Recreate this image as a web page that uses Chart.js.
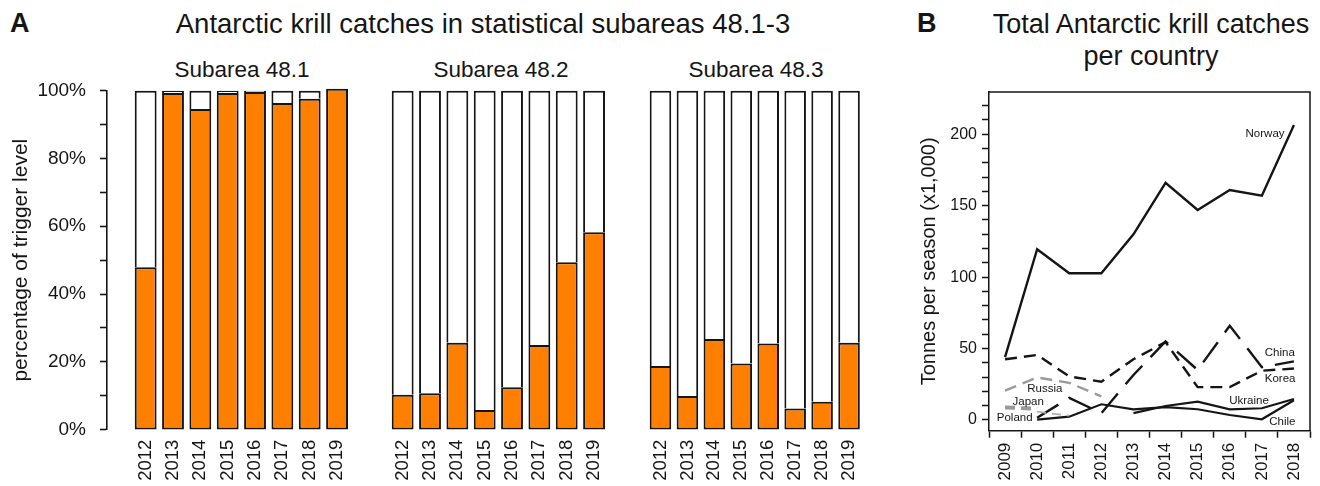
<!DOCTYPE html>
<html><head><meta charset="utf-8">
<script src="https://cdn.jsdelivr.net/npm/chart.js@4.4.1/dist/chart.umd.min.js"></script>
<style>
html,body{margin:0;padding:0;background:#fff;}
#wrap{position:relative;width:1320px;height:486px;overflow:hidden;font-family:"Liberation Sans",Arial,sans-serif;color:#151515;background:#fff;}
canvas{position:absolute;top:0;}
.t{position:absolute;white-space:nowrap;line-height:1;}
.c{transform:translateX(-50%);}
</style></head><body>
<div id="wrap">
  <div class="t" style="left:10px;top:9.6px;font-size:27px;font-weight:bold;">A</div>
  <div class="t c" style="left:483px;top:10.2px;font-size:27.5px;">Antarctic krill catches in statistical subareas 48.1-3</div>
  <div class="t" style="left:917px;top:9.6px;font-size:27px;font-weight:bold;">B</div>
  <div class="t c" style="left:1151px;top:10.6px;font-size:27px;">Total Antarctic krill catches</div>
  <div class="t c" style="left:1151px;top:42.6px;font-size:27px;">per country</div>
  <div class="t c" style="left:242px;top:59.3px;font-size:22.5px;">Subarea 48.1</div>
  <div class="t c" style="left:501px;top:59.3px;font-size:22.5px;">Subarea 48.2</div>
  <div class="t c" style="left:756px;top:59.3px;font-size:22.5px;">Subarea 48.3</div>
  <canvas id="axA" width="120" height="486" style="left:0px"></canvas>
  <canvas id="g1" width="250" height="486" style="left:120px"></canvas>
  <canvas id="g2" width="250" height="486" style="left:377px"></canvas>
  <canvas id="g3" width="247" height="486" style="left:635px"></canvas>
  <canvas id="pb" width="420" height="486" style="left:900px"></canvas>
</div>
<script>
// ---------- Panel A data ----------
const years = ['2012','2013','2014','2015','2016','2017','2018','2019'];
const subarea481 = [47.9, 99.3, 94.6, 99.3, 99.6, 96.4, 97.6, 100.6];
const subarea482 = [10.3, 10.7, 25.6, 5.8, 12.5, 25.0, 49.4, 58.2];
const subarea483 = [18.8, 9.9, 26.7, 19.5, 25.4, 6.2, 8.2, 25.6];
const pctTickLabels = [0, 20, 40, 60, 80, 100];

// ---------- Panel B data ----------
const seasons = ['2009','2010','2011','2012','2013','2014','2015','2016','2017','2018'];
const norway  = [44, 119.5, 102.7, 102.7, 130, 166, 147, 161, 157, 206.5];
const korea   = [42.5, 45.5, 30.5, 26.8, 42.5, 54.5, 23, 23, 34.5, 36];
const china   = [null, 1.5, 15.5, 4.8, 31.5, 55, 35, 66, 37, 41];
const russia  = [20.5, 29.8, 26, 16.5, null, null, null, null, null, null];
const japan   = [8.8, 7.8, null, null, null, null, null, null, null, null];
const poland  = [null, 5.8, 3, null, null, null, null, null, null, null];
const chile   = [null, 0.3, 2.3, 11, 7.5, 9, 7.5, 3.5, 0.5, 13.8];
const ukraine = [null, null, null, null, 4.8, 9.8, 12.8, 7.5, 8.2, 14.7];
const tonnesTickLabels = [0, 50, 100, 150, 200];

const FONT = '"Liberation Sans", Arial, sans-serif';
const INK = '#151515';
const ORANGE = '#ff8000';
const GREY = '#9a9a9a';

Chart.defaults.font.family = FONT;
Chart.defaults.color = INK;
Chart.defaults.animation = false;
Chart.defaults.responsive = false;
Chart.defaults.plugins.legend.display = false;
Chart.defaults.plugins.tooltip.enabled = false;

const H = 486;
const A_TOP = 90.7, A_BOTTOM = 429.6;
const PAD = 12;

// y axis for panel A (drawn on its own canvas so the axis sits left of the bars)
new Chart(document.getElementById('axA'), {
  type: 'bar',
  data: { labels: [], datasets: [] },
  options: {
    layout: { padding: { top: A_TOP, bottom: H - A_BOTTOM, left: 0, right: 0 } },
    scales: {
      x: { display: false },
      y: {
        min: 0, max: 100,
        afterBuildTicks: s => { const t = []; for (let v = 0; v <= 100; v += 10) t.push({ value: v }); s.ticks = t; },
        afterFit: s => { s.width = 107; },
        border: { display: true, color: INK, width: 1.6 },
        grid: { drawOnChartArea: false, drawTicks: true, tickLength: 7, tickWidth: 1.6, tickColor: INK },
        ticks: { padding: 14, font: { size: 19 }, color: INK, autoSkip: false,
                 callback: v => pctTickLabels.includes(v) ? v + '%' : '' },
        title: { display: true, text: 'percentage of trigger level', font: { size: 21 }, color: INK,
                 padding: { top: 8.4, bottom: 0 } }
      }
    }
  }
});

function groupChart(id, values) {
  const rest = values.map(v => v < 100 ? 100 - v : null);
  return new Chart(document.getElementById(id), {
    type: 'bar',
    data: {
      labels: years,
      datasets: [
        { data: values, backgroundColor: ORANGE, borderColor: INK, borderWidth: 2, borderSkipped: false, clip: false },
        { data: rest, backgroundColor: '#ffffff', borderColor: INK, borderWidth: 2, borderSkipped: 'start', clip: false }
      ]
    },
    options: {
      datasets: { bar: { barPercentage: 0.8, categoryPercentage: 1 } },
      layout: { padding: { top: A_TOP, bottom: 0, left: PAD, right: PAD } },
      scales: {
        x: {
          stacked: true,
          grid: { display: false, drawTicks: false },
          border: { display: false },
          ticks: { maxRotation: 90, minRotation: 90, padding: 10, font: { size: 18.5 }, color: INK, autoSkip: false },
          afterFit: s => { s.height = H - A_BOTTOM; }
        },
        y: { display: false, stacked: true, min: 0, max: 100 }
      }
    }
  });
}
groupChart('g1', subarea481);
groupChart('g2', subarea482);
groupChart('g3', subarea483);

// ---------- Panel B ----------
const B_TOP = 92, B_BOTTOM = 430.7;
const countryLabels = [
  { text: 'Norway',  at: [8.1, 200] },
  { text: 'China',   at: [8.56, 46.7] },
  { text: 'Korea',   at: [8.57, 28.5] },
  { text: 'Ukraine', at: [7.6, 13.5] },
  { text: 'Chile',   at: [8.64, -1.2] },
  { text: 'Russia',  at: [1.24, 21.9] },
  { text: 'Japan',   at: [0.72, 12.8] },
  { text: 'Poland',  at: [0.3, 1.2] }
];

const boxAndLabels = {
  id: 'boxAndLabels',
  afterDatasetsDraw(chart) {
    const { ctx, chartArea: a, scales: { x, y } } = chart;
    ctx.save();
    ctx.strokeStyle = INK;
    ctx.lineWidth = 1.5;
    ctx.beginPath();
    ctx.moveTo(a.left, a.top); ctx.lineTo(a.right, a.top); ctx.lineTo(a.right, a.bottom);
    ctx.stroke();
    ctx.fillStyle = INK;
    ctx.font = '11.5px ' + FONT;
    ctx.textAlign = 'center';
    ctx.textBaseline = 'middle';
    countryLabels.forEach(l => ctx.fillText(l.text, x.getPixelForValue(l.at[0]), y.getPixelForValue(l.at[1])));
    ctx.restore();
  }
};

function line(label, data, color, width, dash) {
  return { label, data, borderColor: color, borderWidth: width, borderDash: dash || [],
           pointRadius: 0, tension: 0, fill: false, spanGaps: false, borderCapStyle: 'butt' };
}

new Chart(document.getElementById('pb'), {
  type: 'line',
  data: {
    labels: seasons,
    datasets: [
      line('Japan', japan, GREY, 4, [10, 6]),
      line('Poland', poland, '#b0b0b0', 1.8, [9, 6]),
      line('Russia', russia, GREY, 2.4, [12, 7]),
      line('Korea', korea, INK, 2.4, [12, 7]),
      line('China', china, INK, 2.4, [25, 12]),
      line('Chile', chile, INK, 2.2),
      line('Ukraine', ukraine, INK, 2.2),
      line('Norway', norway, INK, 2.4)
    ]
  },
  options: {
    layout: { padding: { top: B_TOP, bottom: 0, left: 0, right: 10 } },
    scales: {
      x: {
        offset: true,
        grid: { offset: true, drawOnChartArea: false, drawTicks: true, tickLength: 7, tickWidth: 1.5, tickColor: INK },
        border: { display: true, color: INK, width: 1.5 },
        ticks: { maxRotation: 90, minRotation: 90, padding: 5, font: { size: 17 }, color: INK, autoSkip: false },
        afterFit: s => { s.height = H - B_BOTTOM; }
      },
      y: {
        min: -7.5, max: 229.6,
        afterBuildTicks: s => { const t = []; for (let v = 0; v <= 220; v += 10) t.push({ value: v }); s.ticks = t; },
        afterFit: s => { s.width = 89; },
        border: { display: true, color: INK, width: 1.5 },
        grid: { drawOnChartArea: false, drawTicks: true, tickLength: 7, tickWidth: 1.5, tickColor: INK },
        ticks: { padding: 5, font: { size: 16 }, color: INK, autoSkip: false,
                 callback: v => tonnesTickLabels.includes(v) ? String(v) : '' },
        title: { display: true, text: 'Tonnes per season (x1,000)', font: { size: 20 }, color: INK,
                 padding: { top: 17, bottom: 0 } }
      }
    }
  },
  plugins: [boxAndLabels]
});
</script>
</body></html>
